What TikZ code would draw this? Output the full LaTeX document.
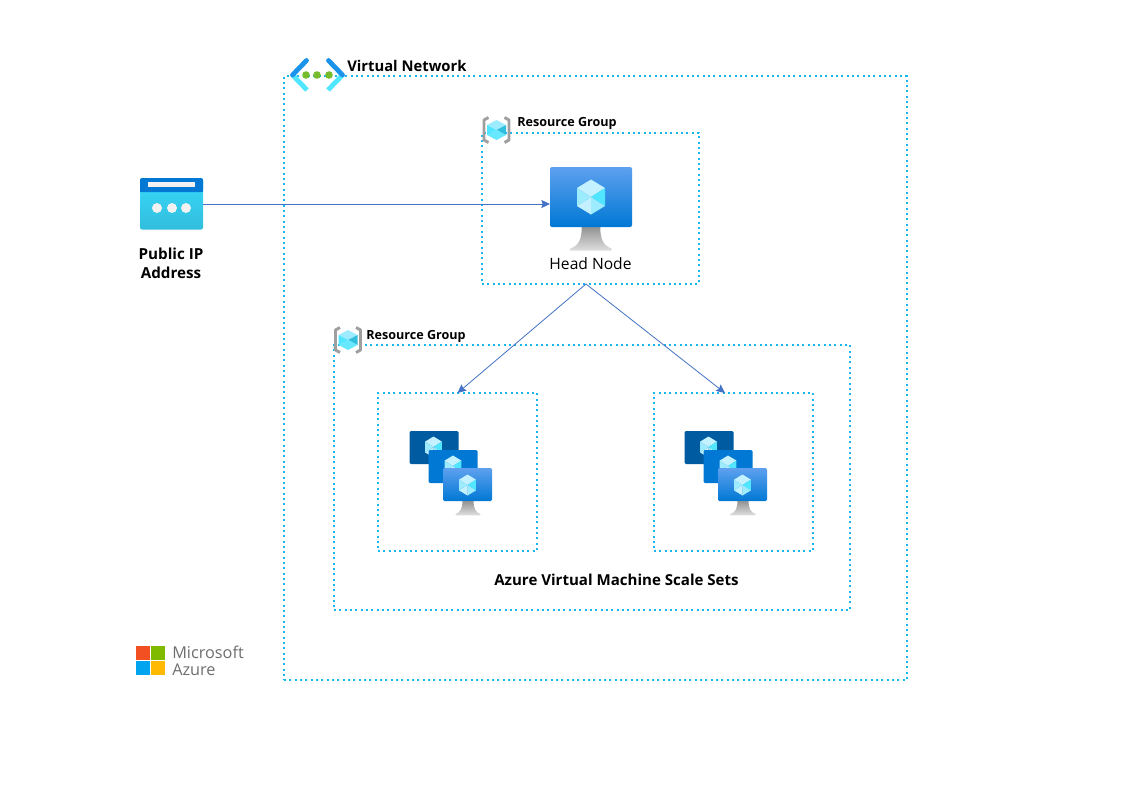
\documentclass[tikz,border=0pt]{standalone}
\usepackage{fontspec}
\setmainfont{Open Sans}
\usetikzlibrary{arrows.meta}
\def\px{0.75pt}
\definecolor{dotblue}{HTML}{14B8EE}
\definecolor{linkblue}{HTML}{4472C4}
\definecolor{cubeA}{HTML}{C3F1FF}
\definecolor{cubeB}{HTML}{9CEBFF}
\definecolor{cubeC}{HTML}{50E6FF}
\definecolor{cubeD}{HTML}{32BEDD}
\definecolor{azureA}{HTML}{0078D4}
\definecolor{azureB}{HTML}{5EA0EF}
\definecolor{azureC}{HTML}{005BA1}
\definecolor{ipTop}{HTML}{38D8FA}
\definecolor{vnetDark}{HTML}{1B93EB}
\definecolor{vnetDot}{HTML}{76BC2D}
\definecolor{msRedFill}{HTML}{F25022}
\definecolor{msGreenFill}{HTML}{7FBA00}
\definecolor{msBlueFill}{HTML}{00A4EF}
\definecolor{msYellowFill}{HTML}{FFB900}
\definecolor{msGray}{HTML}{6E6E6E}
\tikzset{
    pics/cube/.style={code={
        \fill[cubeA] (0,0) -- (-14,-9) -- (0,-17.5) -- (14,-9) -- cycle;
        \fill[cubeC] (0,0) -- (14,-9) -- (14,9) -- cycle;
        \fill[cubeB] (0,0) -- (14,9) -- (0,17.5) -- cycle;
        \fill[cubeA] (0,0) -- (0,17.5) -- (-14,9) -- cycle;
        \fill[cubeB] (0,0) -- (-14,9) -- (-14,-9) -- cycle;
    }},
    pics/stand/.style={code={
        \shade[top color=gray!85, bottom color=gray!25]
            (-9,0) -- (9,0) .. controls (9,12) and (12,18) .. (20,21)
            -- (20,23) -- (-20,23) -- (-20,21) .. controls (-12,18) and (-9,12) .. (-9,0) -- cycle;
    }},
    pics/vmset/.style={code={
        % back, middle and front screen
        \fill[azureC, rounded corners=1pt] (0,0) rectangle (49,33);
        \pic[scale=0.6] at (24,16) {cube};
        \fill[azureA, rounded corners=1pt] (19,19) rectangle (68,52);
        \pic[scale=0.6] at (43.5,35) {cube};
        \shade[top color=azureB, bottom color=azureA, rounded corners=1pt] (33.5,37) rectangle (82.5,70);
        \pic[scale=0.6] at (58,54) {cube};
        \pic[scale=0.62] at (58.5,70) {stand};
    }},
    pics/rgicon/.style={code={
        \draw[gray!75, line width=2.2pt, line join=round]
            (-8,-12.5) -- (-12.5,-10) -- (-12.5,10) -- (-8,12.5);
        \draw[gray!75, line width=2.2pt, line join=round]
            (8,-12.5) -- (12.5,-10) -- (12.5,10) -- (8,12.5);
        \fill[cubeB] (0,0) -- (-9.5,-5) -- (0,-10) -- (9.5,-5) -- cycle;
        \fill[cubeC] (0,0) -- (-9.5,-5) -- (-9.5,5) -- cycle;
        \fill[cubeD] (0,0) -- (9.5,-5) -- (9.5,5) -- cycle;
        \fill[cubeC!70!cubeB] (0,0) -- (9.5,5) -- (0,10) -- (-9.5,5) -- cycle;
    }}
}
\begin{document}
\begin{tikzpicture}[
        x=0.75pt, y=-0.75pt,
        dotbox/.style={rectangle, draw=dotblue, line width=1.7pt, dash pattern=on 1.6pt off 2.4pt, outer sep=0pt},
        arrow/.style={-{Stealth[length=6.5pt,width=6pt,inset=1pt]}, linkblue, line width=0.6pt},
        title/.style={font=\bfseries\fontsize{11.1}{13}\selectfont, anchor=west, inner sep=0pt},
        rglabel/.style={font=\bfseries\fontsize{9.45}{11}\selectfont, anchor=west, inner sep=0pt},
        bodytext/.style={font=\bfseries\fontsize{11.4}{14.2}\selectfont, align=center, inner sep=0pt},
        msquare/.style={rectangle, minimum size=14*\px, inner sep=0pt, outer sep=0pt}
    ]

    \path[use as bounding box, fill=white] (0,0) rectangle (1123,794);

    % dotted frames
    \node[dotbox, minimum width=623*\px, minimum height=604*\px] (vnetBox) at (595.5,378) {};
    \node[dotbox, minimum width=217*\px, minimum height=151*\px] (rgHead) at (590.5,208.5) {};
    \node[dotbox, minimum width=516*\px, minimum height=265*\px] (rgScale) at (592,477.5) {};
    \node[dotbox, minimum width=159*\px, minimum height=158*\px] (setLeft) at (457.5,472) {};
    \node[dotbox, minimum width=159*\px, minimum height=158*\px] (setRight) at (733.5,472) {};

    % virtual network icon
    \draw[cubeC, line width=3.6pt] (307,90) -- (292.5,75) (328,90) -- (342.5,75);
    \draw[vnetDark, line width=3.6pt, line cap=round] (306.5,60.5) -- (292.5,75) (328.5,60.5) -- (342.5,75);
    \foreach \dotx in {306,317,329}
        \fill[vnetDot] (\dotx,75) circle (3.8);
    \node[title] (vnetLabel) at (347,66) {Virtual Network};

    \pic at (496.5,130) {rgicon};
    \node[rglabel] (rgHeadLabel) at (517,123.5) {Resource Group};
    \pic at (348,340) {rgicon};
    \node[rglabel] (rgScaleLabel) at (366,336.5) {Resource Group};

    % public ip
    \node[rectangle, rounded corners=1.5pt, top color=ipTop, bottom color=cubeD, minimum width=63*\px, minimum height=51*\px, inner sep=0pt, outer sep=0pt] (ipIcon) at (171.5,204) {};
    \fill[azureA, rounded corners=1.5pt] (140,178) rectangle (203,192);
    \fill[azureA] (140,186) rectangle (203,192);
    \fill[gray!10] (148,182) rectangle (195,187);
    \foreach \dotx in {157,172,186}
        \fill[gray!10] (\dotx,208) circle (5);
    \node[bodytext] (ipLabel) at (171,263.5) {Public IP\\Address};

    % head node
    \pic[scale=1.03] at (591,227) {stand};
    \node[rectangle, rounded corners=1.5pt, top color=azureB, bottom color=azureA, minimum width=82*\px, minimum height=60*\px, inner sep=0pt, outer sep=0pt] (headVm) at (591,197) {};
    \pic at (591,197) {cube};
    \node[font=\fontsize{11.7}{13}\selectfont, inner sep=0pt] (headLabel) at (590.5,264) {Head Node};

    % scale sets
    \pic at (409.5,431) {vmset};
    \pic at (684.5,431) {vmset};
    \node[bodytext, font=\bfseries\fontsize{11.3}{13}\selectfont] (setLabel) at (616.5,579.5) {Azure Virtual Machine Scale Sets};

    \draw[arrow] (ipIcon.east) -- (ipIcon.east -| headVm.west);
    \draw[arrow] ([xshift=-3.4pt]rgHead.south) -- (setLeft.north);
    \draw[arrow] ([xshift=-3.4pt]rgHead.south) -- ([xshift=-6.4pt]setRight.north);

    % logo
    \node[msquare, fill=msRedFill] (msRed) at (143,653) {};
    \node[msquare, fill=msGreenFill] (msGreen) at (158,653) {};
    \node[msquare, fill=msBlueFill] (msBlue) at (143,668) {};
    \node[msquare, fill=msYellowFill] (msYellow) at (158,668) {};
    \node[font=\fontsize{12.2}{12.8}\selectfont, text=msGray, align=left, anchor=west, inner sep=0pt] (msText) at (172,660.5) {Microsoft\\Azure};

\end{tikzpicture}
\end{document}
